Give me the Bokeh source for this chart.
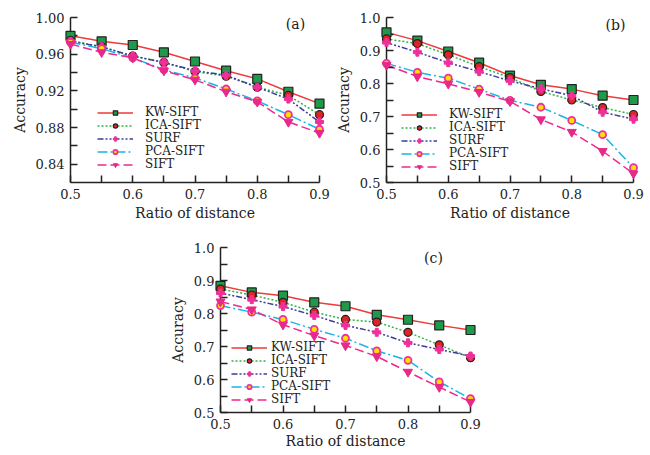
from bokeh.plotting import figure
from bokeh.models import FixedTicker, PrintfTickFormatter, Label, Spacer, Legend, LegendItem
from bokeh.layouts import column, row
from bokeh.embed import file_html
from bokeh.resources import INLINE

ratio = [0.5, 0.55, 0.6, 0.65, 0.7, 0.75, 0.8, 0.85, 0.9]
series_names = ["KW-SIFT", "ICA-SIFT", "SURF", "PCA-SIFT", "SIFT"]

# (a)
a_kw = [0.980, 0.974, 0.970, 0.962, 0.952, 0.942, 0.933, 0.919, 0.906]
a_ica = [0.975, 0.968, 0.958, 0.951, 0.941, 0.936, 0.924, 0.915, 0.894]
a_surf = [0.974, 0.968, 0.958, 0.951, 0.942, 0.937, 0.924, 0.911, 0.886]
a_pca = [0.973, 0.966, 0.956, 0.943, 0.934, 0.922, 0.909, 0.894, 0.878]
a_sift = [0.971, 0.962, 0.956, 0.942, 0.932, 0.919, 0.908, 0.886, 0.874]
# (b)
b_kw = [0.955, 0.930, 0.897, 0.863, 0.824, 0.796, 0.783, 0.763, 0.750]
b_ica = [0.935, 0.921, 0.887, 0.851, 0.818, 0.776, 0.750, 0.727, 0.706]
b_surf = [0.924, 0.895, 0.863, 0.836, 0.808, 0.784, 0.763, 0.713, 0.692]
b_pca = [0.861, 0.834, 0.816, 0.783, 0.749, 0.728, 0.688, 0.645, 0.545]
b_sift = [0.856, 0.821, 0.799, 0.774, 0.746, 0.691, 0.653, 0.595, 0.527]
# (c)
c_kw = [0.884, 0.864, 0.854, 0.834, 0.822, 0.796, 0.781, 0.764, 0.750]
c_ica = [0.874, 0.856, 0.834, 0.804, 0.782, 0.774, 0.743, 0.705, 0.666]
c_surf = [0.862, 0.842, 0.821, 0.794, 0.764, 0.743, 0.711, 0.691, 0.671]
c_pca = [0.824, 0.804, 0.782, 0.752, 0.725, 0.687, 0.658, 0.593, 0.542]
c_sift = [0.836, 0.812, 0.766, 0.733, 0.703, 0.670, 0.623, 0.577, 0.532]

x_ticks = [0.5, 0.6, 0.7, 0.8, 0.9]
x_minor = [0.55, 0.65, 0.75, 0.85]
a_yticks = [0.84, 0.88, 0.92, 0.96, 1.00]
a_yminor = [0.86, 0.90, 0.94, 0.98]
bc_yticks = [0.5, 0.6, 0.7, 0.8, 0.9, 1.0]
bc_yminor = [0.55, 0.65, 0.75, 0.85, 0.95]

FONT = "DejaVu Serif"

styles = [
    dict(line_color="#ee3a3a", line_dash="solid", marker="square", size=9,
         fill_color="#1e9a4a", mline="#222222", mwidth=1.2),
    dict(line_color="#2db34a", line_dash="2 2", marker="circle", size=8,
         fill_color="#e02424", mline="#222222", mwidth=1.2),
    dict(line_color="#3c3c9c", line_dash="6 2 2 2 2 2", marker="plus", size=8,
         fill_color="#f0309a", mline="#f0309a", mwidth=1.0),
    dict(line_color="#1ab4e8", line_dash="10 3 2 3", marker="circle", size=7,
         fill_color="#ffe000", mline="#f0309a", mwidth=1.8),
    dict(line_color="#ee2a8c", line_dash="9 4", marker="inverted_triangle", size=9,
         fill_color="#e8288a", mline="#e8288a", mwidth=1.0),
]


def make_panel(width, height, bl, br, bt, bb, yrange, yticks, yminor, yfmt, data,
               legend_x, legend_y0, legend_standoff, tag, tag_pos, xlab_standoff):
    p = figure(width=width, height=height, x_range=(0.5, 0.9), y_range=yrange,
               output_backend="svg", toolbar_location=None,
               min_border_left=bl, min_border_right=br, min_border_top=bt,
               min_border_bottom=bb)
    p.outline_line_color = None
    p.grid.visible = False
    p.background_fill_color = "white"
    p.border_fill_color = "white"

    for ax in (p.xaxis[0], p.yaxis[0]):
        ax.axis_line_width = 1.5
        ax.axis_line_color = "#222222"
        ax.major_tick_line_width = 1.5
        ax.minor_tick_line_width = 1.5
        ax.major_tick_line_color = "#222222"
        ax.minor_tick_line_color = "#222222"
        ax.major_tick_in = 7
        ax.major_tick_out = 0
        ax.minor_tick_in = 7
        ax.minor_tick_out = 0
        ax.major_label_text_font = FONT
        ax.major_label_text_font_size = "13px"
        ax.major_label_text_color = "#222222"
        ax.major_label_standoff = 6
        ax.axis_label_text_font = FONT
        ax.axis_label_text_font_size = "14px"
        ax.axis_label_text_font_style = "normal"
        ax.axis_label_text_color = "#222222"
    p.xaxis.axis_label = "Ratio of distance"
    p.yaxis.axis_label = "Accuracy"
    p.xaxis.axis_label_standoff = xlab_standoff
    p.yaxis.axis_label_standoff = 5
    p.xaxis.ticker = FixedTicker(ticks=x_ticks, minor_ticks=x_minor)
    p.yaxis.ticker = FixedTicker(ticks=yticks, minor_ticks=yminor)
    p.yaxis.formatter = PrintfTickFormatter(format=yfmt)
    p.xaxis.formatter = PrintfTickFormatter(format="%.1f")

    line_rs = []
    for ys, st in zip(data, styles):
        line_rs.append(p.line(ratio, ys, line_color=st["line_color"], line_width=1.5,
                              line_dash=st["line_dash"]))
    mark_rs = []
    for ys, st in zip(data, styles):
        mark_rs.append(p.scatter(ratio, ys, marker=st["marker"], size=st["size"],
                                 fill_color=st["fill_color"], line_color=st["mline"],
                                 line_width=st["mwidth"], level="overlay"))

    n = len(series_names)
    for i, name in enumerate(series_names):
        item = LegendItem(label=name, renderers=[line_rs[i], mark_rs[i]])
        lg = Legend(items=[item], location=(legend_x, legend_y0 + (n - 1 - i) * 13))
        lg.background_fill_alpha = 0
        lg.border_line_alpha = 0
        lg.padding = 0
        lg.margin = 0
        lg.spacing = 0
        lg.glyph_width = 36
        lg.glyph_height = 11
        lg.label_height = 11
        lg.label_standoff = legend_standoff
        lg.label_text_font = FONT
        lg.label_text_font_size = "12px"
        lg.label_text_color = "#222222"
        p.add_layout(lg)

    p.add_layout(Label(x=tag_pos[0], y=tag_pos[1], x_units="screen", y_units="screen",
                       text=tag, text_font=FONT, text_font_size="14px",
                       text_align="center", text_baseline="middle", text_color="#222222"))
    return p


pa = make_panel(332, 230, 70, 13, 17, 47, (0.82, 1.00), a_yticks, a_yminor, "%.2f",
                [a_kw, a_ica, a_surf, a_pca, a_sift], 27, 11, 12, "(a)",
                (225, 159), 3)
pb = make_panel(318, 230, 51, 17, 16, 48, (0.5, 1.0), bc_yticks, bc_yminor, "%.1f",
                [b_kw, b_ica, b_surf, b_pca, b_sift], 15, 9, 12, "(b)",
                (229, 158), 3)
pc = make_panel(325, 224, 55, 20, 17, 42, (0.5, 1.0), bc_yticks, bc_yminor, "%.1f",
                [c_kw, c_ica, c_surf, c_pca, c_sift], 11, 6, 4, "(c)",
                (213, 155), 1)

layout = column(row(pa, pb), row(Spacer(width=165, height=224), pc))

open("out.html", "w").write(file_html(layout, INLINE))
